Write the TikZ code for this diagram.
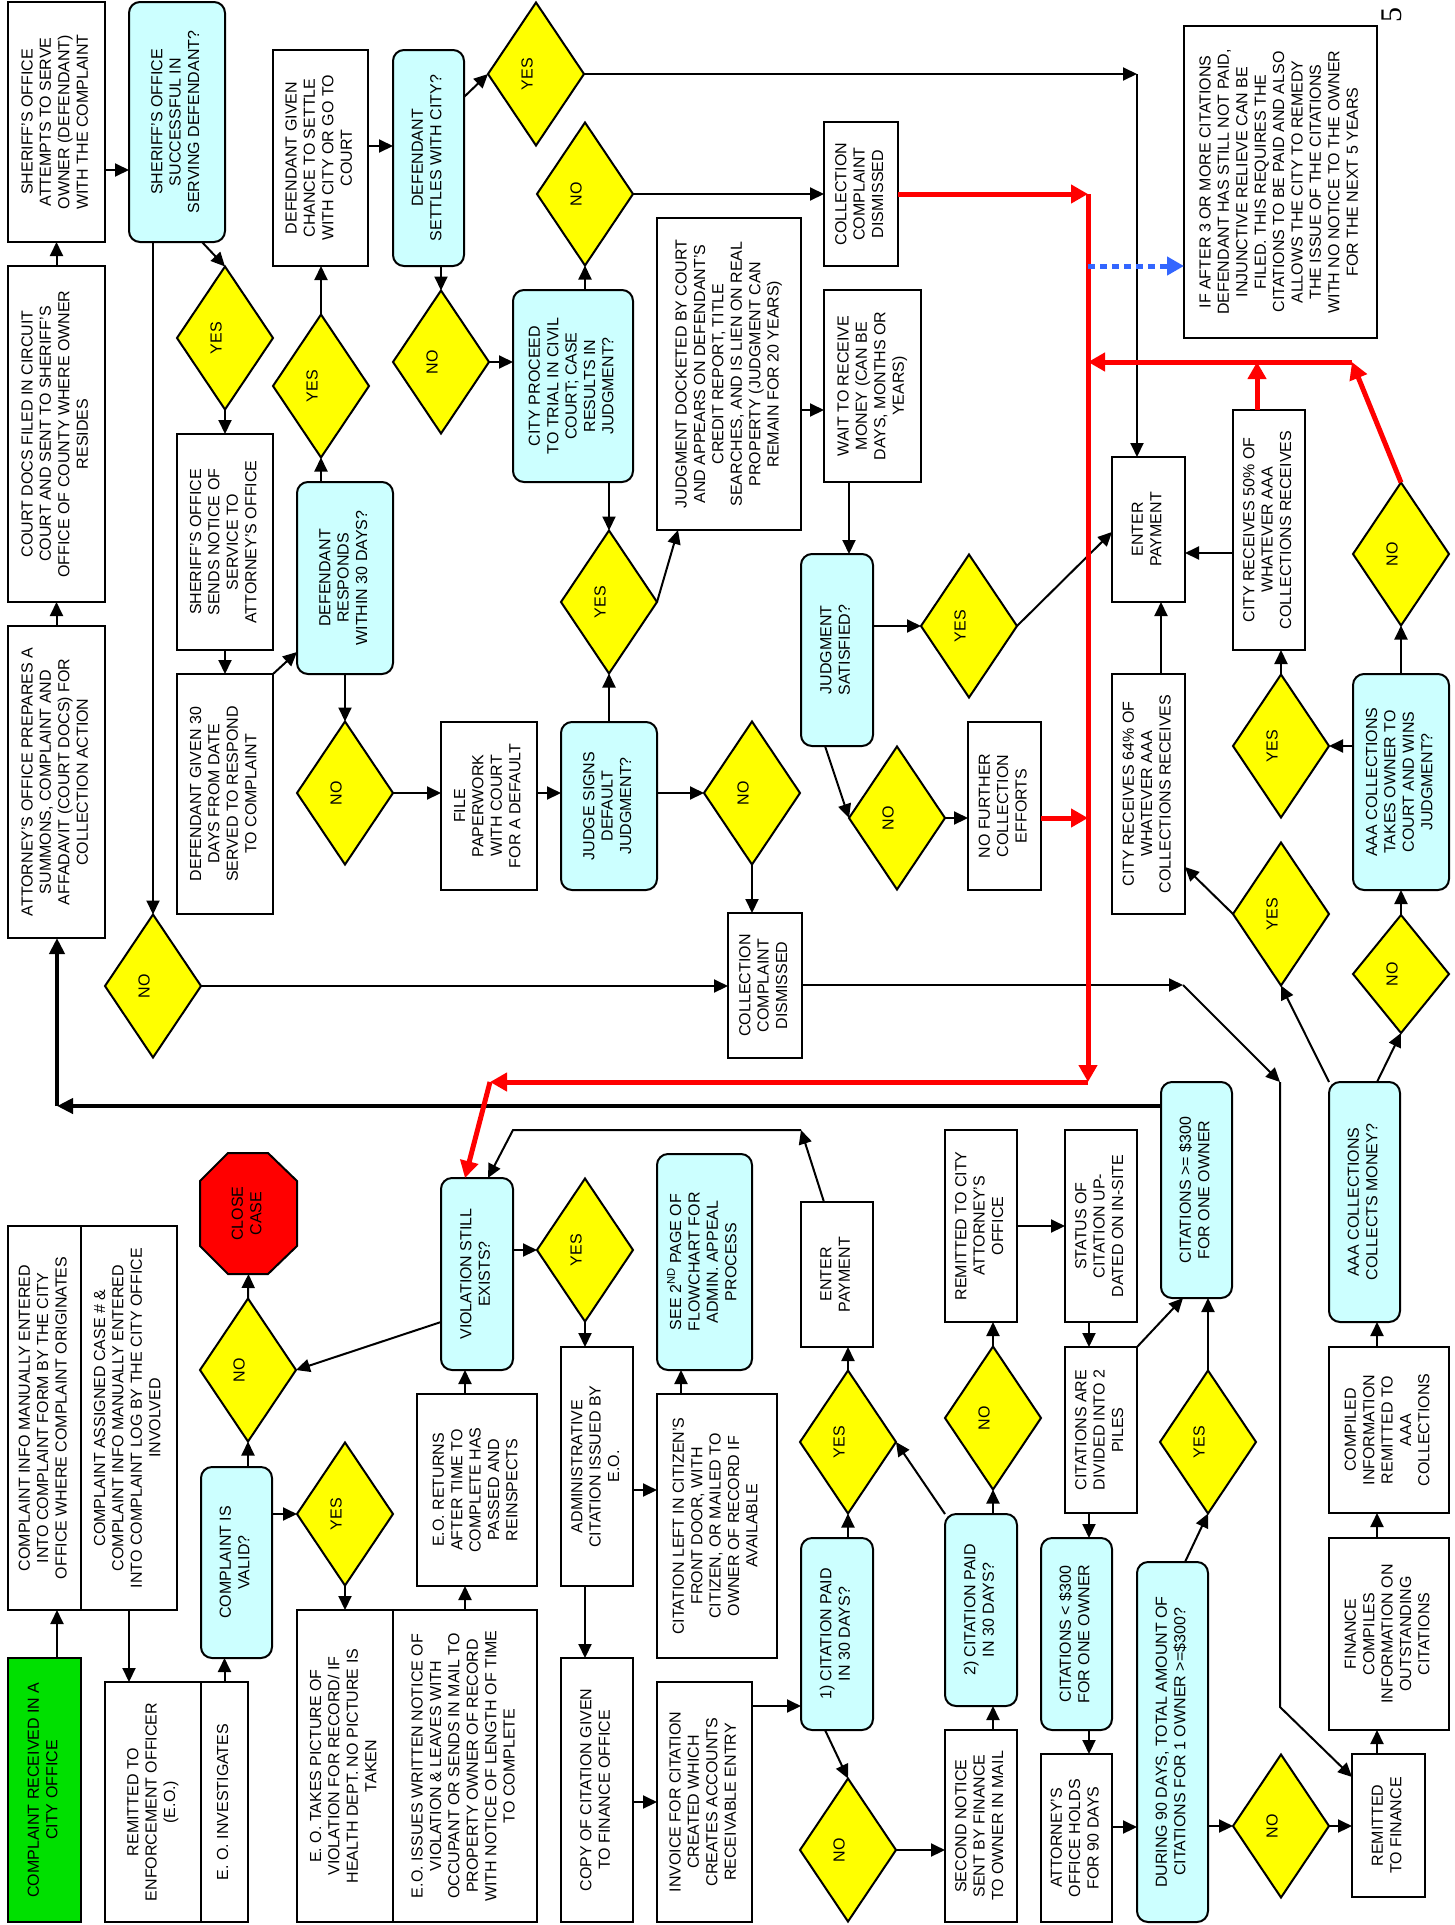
\documentclass[tikz,border=0pt]{standalone}
\usepackage{fontspec}
\setmainfont{Liberation Sans}
\newfontfamily\pgnum{Liberation Serif}
\usetikzlibrary{shapes.geometric,arrows.meta}
\definecolor{cyanbox}{HTML}{CCFFFF}
\definecolor{greenbox}{HTML}{00E000}
\definecolor{yel}{HTML}{FFFF00}
\definecolor{blueline}{HTML}{3366FF}
\definecolor{redline}{HTML}{FF0000}
\newcommand\rt[1]{\rotatebox{90}{\begin{tabular}{@{}c@{}}#1\end{tabular}}}
\newcommand\bx[7]{\node[#2, minimum width={#5-#3}, minimum height={#6-#4}] (#1) at ({(#3+#5)/2},{(#4+#6)/2}) {\rt{#7}};}
\newcommand\dm[5][]{\node[dia,#1,label={[inner sep=0pt,xshift=-9pt]center:\rotatebox{90}{#5}}] (#2) at (#3,#4) {};}
\tikzset{
  every node/.style={font=\fontsize{16}{18.4}\selectfont},
  bx/.style={draw, line width=2pt, fill=white, inner sep=0pt, outer sep=0pt},
  cy/.style={bx, fill=cyanbox, rounded corners=11pt},
  gr/.style={bx, fill=greenbox},
  dia/.style={diamond, draw, line width=2pt, fill=yel, inner sep=0pt, outer sep=0pt, minimum width=96pt, minimum height=143pt},
  arr/.style={line width=2pt, -{Triangle[length=14pt,width=13pt]}},
  thk/.style={line width=4pt, -{Triangle[length=16pt,width=15pt]}},
  rd/.style={line width=5pt, draw=redline, -{Triangle[length=17pt,width=18pt]}},
  bl/.style={line width=5pt, draw=blueline, dash pattern=on 7pt off 5pt, -{Triangle[length=17pt,width=18pt]}},
}
\begin{document}
\begin{tikzpicture}[x=1pt,y=-1pt]
\fill[white] (0,0) rectangle (1455,1925);
\useasboundingbox (0,0) rectangle (1455,1925);

% ---------- upper part ----------
\bx{sheriffAtt}{bx}{8}{2}{105}{242}{SHERIFF'S OFFICE\\ATTEMPTS TO SERVE\\OWNER (DEFENDANT)\\WITH THE COMPLAINT}
\bx{sheriffSucc}{cy}{129}{2}{225}{242}{SHERIFF'S OFFICE\\SUCCESSFUL IN\\SERVING DEFENDANT?}
\bx{courtDocs}{bx}{8}{266}{105}{602}{COURT DOCS FILED IN CIRCUIT\\COURT AND SENT TO SHERIFF'S\\OFFICE OF COUNTY WHERE OWNER\\RESIDES}
\bx{attPrep}{bx}{8}{626}{105}{938}{ATTORNEY'S OFFICE PREPARES A\\SUMMONS, COMPLAINT AND\\AFFADAVIT (COURT DOCS) FOR\\COLLECTION ACTION}
\dm{dYes1}{225}{338}{YES}
\bx{sheriffNotice}{bx}{177}{434}{273}{650}{SHERIFF'S OFFICE\\SENDS NOTICE OF\\SERVICE TO\\ATTORNEY'S OFFICE}
\bx{def30}{bx}{177}{674}{273}{914}{DEFENDANT GIVEN 30\\DAYS FROM DATE\\SERVED TO RESPOND\\TO COMPLAINT}
\bx{defResp}{cy}{297}{482}{393}{674}{DEFENDANT\\RESPONDS\\WITHIN 30 DAYS?}
\dm{dYes2}{321}{386}{YES}
\bx{chance}{bx}{273}{50}{368}{266}{DEFENDANT GIVEN\\CHANCE TO SETTLE\\WITH CITY OR GO TO\\COURT}
\bx{settles}{cy}{393}{50}{464}{266}{DEFENDANT\\SETTLES WITH CITY?}
\dm{dNo1}{441}{362}{NO}
\dm{dYesTop}{536}{74}{YES}
\dm{dNo2}{585}{194}{NO}
\bx{trial}{cy}{513}{290}{633}{482}{CITY PROCEED\\TO TRIAL IN CIVIL\\COURT; CASE\\RESULTS IN\\JUDGMENT?}
\bx{collDis1}{bx}{824}{122}{898}{266}{COLLECTION\\COMPLAINT\\DISMISSED}
\bx{docketed}{bx}{657}{218}{801}{530}{JUDGMENT DOCKETED BY COURT\\AND APPEARS ON DEFENDANT'S\\CREDIT REPORT, TITLE\\SEARCHES, AND IS LIEN ON REAL\\PROPERTY (JUDGMENT CAN\\REMAIN FOR 20 YEARS)}
\bx{wait}{bx}{824}{290}{921}{482}{WAIT TO RECEIVE\\MONEY (CAN BE\\DAYS, MONTHS OR\\YEARS)}
\dm{dYes3}{609}{602}{YES}
\bx{judge}{cy}{561}{722}{657}{890}{JUDGE SIGNS\\DEFAULT\\JUDGMENT?}
\bx{file}{bx}{441}{722}{537}{890}{FILE\\PAPERWORK\\WITH COURT\\FOR A DEFAULT}
\dm{dNo3}{345}{793}{NO}
\dm{dNo4}{752}{793}{NO}
\bx{collDis2}{bx}{728}{913}{802}{1058}{COLLECTION\\COMPLAINT\\DISMISSED}
\bx{satisfied}{cy}{801}{554}{873}{746}{JUDGMENT\\SATISFIED?}
\dm{dYes4}{969}{626}{YES}
\dm{dNo5}{897}{818}{NO}
\bx{noFurther}{bx}{968}{722}{1041}{890}{NO FURTHER\\COLLECTION\\EFFORTS}
\bx{enterPay1}{bx}{1112}{457}{1185}{602}{ENTER\\PAYMENT}
\bx{city50}{bx}{1233}{410}{1305}{650}{CITY RECEIVES 50\% OF\\WHATEVER AAA\\COLLECTIONS RECEIVES}
\bx{city64}{bx}{1112}{674}{1185}{914}{CITY RECEIVES 64\% OF\\WHATEVER AAA\\COLLECTIONS RECEIVES}
\dm{dYes5}{1281}{746}{YES}
\dm{dNo6}{1401}{554}{NO}
\bx{aaaTakes}{cy}{1353}{674}{1449}{890}{AAA COLLECTIONS\\TAKES OWNER TO\\COURT AND WINS\\JUDGMENT?}
\dm{dYes6}{1281}{914}{YES}
\dm[minimum height=118pt]{dNo7}{1401}{974}{NO}
\bx{aaaCollects}{cy}{1329}{1082}{1400}{1322}{AAA COLLECTIONS\\COLLECTS MONEY?}
\bx{ifAfter}{bx}{1184}{26}{1377}{338}{IF AFTER 3 OR MORE CITATIONS\\DEFENDANT HAS STILL NOT PAID,\\INJUNCTIVE RELIEVE CAN BE\\FILED. THIS REQUIRES THE\\CITATIONS TO BE PAID AND ALSO\\ALLOWS THE CITY TO REMEDY\\THE ISSUE OF THE CITATIONS\\WITH NO NOTICE TO THE OWNER\\FOR THE NEXT 5 YEARS}
\dm{dNoLeft}{153}{986}{NO}
\node[font=\pgnum\fontsize{30}{30}\selectfont, rotate=90, inner sep=0pt] (pgno) at (1392,15) {5};

% ---------- lower part ----------
\bx{green}{gr}{8}{1658}{81}{1922}{COMPLAINT RECEIVED IN A\\CITY OFFICE}
\bx{info1}{bx}{8}{1226}{81}{1610}{COMPLAINT INFO MANUALLY ENTERED\\INTO COMPLAINT FORM BY THE CITY\\OFFICE WHERE COMPLAINT ORIGINATES}
\bx{info2}{bx}{81}{1226}{177}{1610}{COMPLAINT ASSIGNED CASE \# \&\\COMPLAINT INFO MANUALLY ENTERED\\INTO COMPLAINT LOG BY THE CITY OFFICE\\INVOLVED}
\bx{remEO}{bx}{105}{1682}{201}{1922}{REMITTED TO\\ENFORCEMENT OFFICER\\(E.O.)}
\bx{eoInv}{bx}{201}{1682}{248}{1922}{E. O. INVESTIGATES}
\bx{valid}{cy}{201}{1467}{272}{1658}{COMPLAINT IS\\VALID?}
\dm{dYes7}{345}{1514}{YES}
\dm{dNo8}{248}{1370}{NO}
\filldraw[fill=redline, line width=2pt] (228,1153) -- (268,1153) -- (297,1181) -- (297,1246) -- (268,1274) -- (228,1274) -- (200,1246) -- (200,1181) -- cycle;
\node[inner sep=0pt, outer sep=0pt, minimum width=97pt, minimum height=121pt] (close) at (248.5,1213.5) {\rt{CLOSE\\CASE}};
\bx{eoPic}{bx}{297}{1610}{393}{1922}{E. O. TAKES PICTURE OF\\VIOLATION FOR RECORD/ IF\\HEALTH DEPT. NO PICTURE IS\\TAKEN}
\bx{eoIssue}{bx}{393}{1610}{537}{1922}{E.O. ISSUES WRITTEN NOTICE OF\\VIOLATION \& LEAVES WITH\\OCCUPANT OR SENDS IN MAIL TO\\PROPERTY OWNER OF RECORD\\WITH NOTICE OF LENGTH OF TIME\\TO COMPLETE}
\bx{eoRet}{bx}{417}{1394}{537}{1586}{E.O. RETURNS\\AFTER TIME TO\\COMPLETE HAS\\PASSED AND\\REINSPECTS}
\bx{violation}{cy}{441}{1178}{513}{1370}{VIOLATION STILL\\EXISTS?}
\dm{dYes8}{585}{1250}{YES}
\bx{admin}{bx}{561}{1347}{633}{1586}{ADMINISTRATIVE\\CITATION ISSUED BY\\E.O.}
\bx{citizen}{bx}{657}{1394}{777}{1658}{CITATION LEFT IN CITIZEN'S\\FRONT DOOR, WITH\\CITIZEN, OR MAILED TO\\OWNER OF RECORD IF\\AVAILABLE}
\bx{see2nd}{cy}{657}{1154}{752}{1370}{SEE 2\textsuperscript{ND} PAGE OF\\FLOWCHART FOR\\ADMIN. APPEAL\\PROCESS}
\bx{copy}{bx}{561}{1658}{633}{1922}{COPY OF CITATION GIVEN\\TO FINANCE OFFICE}
\bx{invoice}{bx}{657}{1682}{752}{1922}{INVOICE FOR CITATION\\CREATED WHICH\\CREATES ACCOUNTS\\RECEIVABLE ENTRY}
\bx{paid1}{cy}{801}{1538}{873}{1730}{1) CITATION PAID\\IN 30 DAYS?}
\dm{dYes9}{848}{1442}{YES}
\bx{enterPay2}{bx}{801}{1202}{873}{1347}{ENTER\\PAYMENT}
\dm{dNo9}{848}{1850}{NO}
\bx{second}{bx}{945}{1730}{1017}{1922}{SECOND NOTICE\\SENT BY FINANCE\\TO OWNER IN MAIL}
\bx{paid2}{cy}{945}{1514}{1017}{1706}{2) CITATION PAID\\IN 30 DAYS?}
\dm{dNo10}{993}{1418}{NO}
\bx{remCity}{bx}{945}{1130}{1017}{1322}{REMITTED TO CITY\\ATTORNEY'S\\OFFICE}
\bx{status}{bx}{1065}{1130}{1137}{1322}{STATUS OF\\CITATION UP-\\DATED ON IN-SITE}
\bx{divided}{bx}{1065}{1347}{1137}{1513}{CITATIONS ARE\\DIVIDED INTO 2\\PILES}
\bx{ge300}{cy}{1161}{1082}{1232}{1298}{CITATIONS >= \$300\\FOR ONE OWNER}
\bx{lt300}{cy}{1041}{1538}{1112}{1730}{CITATIONS < \$300\\FOR ONE OWNER}
\bx{holds}{bx}{1041}{1754}{1112}{1922}{ATTORNEY'S\\OFFICE HOLDS\\FOR 90 DAYS}
\bx{during}{cy}{1137}{1562}{1208}{1922}{DURING 90 DAYS, TOTAL AMOUNT OF\\CITATIONS FOR 1 OWNER >=\$300?}
\dm{dYes10}{1208}{1442}{YES}
\dm{dNo11}{1281}{1826}{NO}
\bx{remFin}{bx}{1352}{1754}{1425}{1897}{REMITTED\\TO FINANCE}
\bx{finComp}{bx}{1329}{1538}{1449}{1730}{FINANCE\\COMPILES\\INFORMATION ON\\OUTSTANDING\\CITATIONS}
\bx{compiled}{bx}{1329}{1347}{1449}{1513}{COMPILED\\INFORMATION\\REMITTED TO\\AAA\\COLLECTIONS}

% ---------- free ends ----------
\coordinate (c1) at (1137,74);
\coordinate (r1) at (1088,194);
\coordinate (r2) at (1088,1082);
\coordinate (r3) at (490,1082);
\coordinate (r4) at (1088,818);
\coordinate (r5) at (1088,362);
\coordinate (r6) at (1352,362);
\coordinate (r7) at (1257,362);
\coordinate (b1) at (1088,266);
\coordinate (k1) at (1183,985);
\coordinate (k2) at (1280,1082);
\coordinate (k3) at (1280,1707);
\coordinate (t1) at (57,1106);
\coordinate (e1) at (801,1130);
\coordinate (e2) at (513,1130);

% ---------- black connectors, upper ----------
\draw[arr] (courtDocs) -- (sheriffAtt);
\draw[arr] (attPrep) -- (courtDocs);
\draw[arr] (sheriffAtt.east |- 0,170) -- (sheriffSucc.west |- 0,170);
\draw[arr] (sheriffSucc.south -| 202,0) -- (dYes1.north);
\draw[arr] (dYes1.south) -- (sheriffNotice.north);
\draw[arr] (sheriffNotice) -- (def30);
\draw[arr] (def30.north east) -- (defResp.west |- 0,652);
\draw[arr] (defResp.north -| dYes2.south) -- (dYes2.south);
\draw[arr] (dYes2.north) -- (dYes2.north |- chance.south);
\draw[arr] (chance.east |- 0,146) -- (settles.west |- 0,146);
\draw[arr] (settles.south -| dNo1.north) -- (dNo1.north);
\draw[arr] (settles.east |- 0,97) -- (dYesTop.west);
\draw[arr] (dYesTop.east) -- (c1);
\draw[arr] (c1) -- (c1 |- enterPay1.north);
\draw[arr] (dNo1.east) -- (dNo1.east -| trial.west);
\draw[arr] (trial.north -| dNo2.south) -- (dNo2.south);
\draw[arr] (dNo2.east) -- (dNo2.east -| collDis1.west);
\draw[arr] (trial.south -| dYes3.north) -- (dYes3.north);
\draw[arr] (dYes3.east) -- (docketed.south -| 678,0);
\draw[arr] (judge.north -| dYes3.south) -- (dYes3.south);
\draw[arr] (dNo3.east) -- (dNo3.east -| file.west);
\draw[arr] (file.east |- dNo3.east) -- (judge.west |- dNo3.east);
\draw[arr] (defResp.south -| dNo3.north) -- (dNo3.north);
\draw[arr] (judge.east |- dNo4.west) -- (dNo4.west);
\draw[arr] (dNo4.south) -- (dNo4.south |- collDis2.north);
\draw[arr] (docketed.east |- 0,410) -- (wait.west |- 0,410);
\draw[arr] (wait.south -| 849,0) -- (satisfied.north -| 849,0);
\draw[arr] (satisfied.east |- dYes4.west) -- (dYes4.west);
\draw[arr] (dYes4.east) -- (enterPay1.west |- 0,532);
\draw[arr] (satisfied.south -| 825,0) -- (dNo5.west);
\draw[arr] (dNo5.east) -- (dNo5.east -| noFurther.west);
\draw[arr] (city50.west |- 0,553) -- (enterPay1.east |- 0,553);
\draw[arr] (city64.north -| 1161,0) -- (enterPay1.south -| 1161,0);
\draw[arr] (dYes5.north) -- (dYes5.north |- city50.south);
\draw[arr] (aaaTakes.west |- dYes5.east) -- (dYes5.east);
\draw[arr] (aaaTakes.north) -- (dNo6.south);
\draw[arr] (dYes6.west) -- (city64.east |- 0,867);
\draw[arr] (dNo7.north) -- (dNo7.north |- aaaTakes.south);
\draw[arr] (aaaCollects.north -| 1377,0) -- (dNo7.south);
\draw[arr] (aaaCollects.north west) -- (dYes6.south);
\draw[arr] (collDis2.east |- k1) -- (k1);
\draw[arr] (k1) -- (k2);
\draw[arr] (k2) -- (k3) -- (remFin.west |- 0,1777);
\draw[arr] (dNoLeft.east) -- (dNoLeft.east -| collDis2.west);
\draw[arr] (sheriffSucc.south -| dNoLeft.north) -- (dNoLeft.north);
\draw[thk] (ge300.west |- t1) -- (t1);
\draw[thk] (t1) -- (t1 |- attPrep.south);

% ---------- black connectors, lower ----------
\draw[arr] (green.north -| 57,0) -- (info1.south -| 57,0);
\draw[arr] (info2.south -| 129,0) -- (remEO.north -| 129,0);
\draw[arr] (eoInv.north) -- (valid.south -| eoInv.north);
\draw[arr] (valid.east |- dYes7.west) -- (dYes7.west);
\draw[arr] (valid.north -| dNo8.south) -- (dNo8.south);
\draw[arr] (dNo8.north) -- (close.south);
\draw[arr] (violation.west |- 0,1322) -- (dNo8.east);
\draw[arr] (dYes7.south) -- (dYes7.south |- eoPic.north);
\draw[arr] (eoIssue.north) -- (eoIssue.north |- eoRet.south);
\draw[arr] (eoRet.north -| 465,0) -- (violation.south -| 465,0);
\draw[arr] (violation.east |- dYes8.west) -- (dYes8.west);
\draw[arr] (dYes8.south) -- (dYes8.south |- admin.north);
\draw[arr] (admin.east |- 0,1490) -- (citizen.west |- 0,1490);
\draw[arr] (citizen.north -| 681,0) -- (see2nd.south -| 681,0);
\draw[arr] (admin.south -| 585,0) -- (copy.north -| 585,0);
\draw[arr] (copy.east |- 0,1802) -- (invoice.west |- 0,1802);
\draw[arr] (invoice.east |- 0,1706) -- (paid1.west |- 0,1706);
\draw[arr] (paid1.north -| dYes9.south) -- (dYes9.south);
\draw[arr] (dYes9.north) -- (dYes9.north |- enterPay2.south);
\draw[arr] (enterPay2.north -| 824,0) -- (e1);
\draw[arr] (e1) -- (e2) -- (violation.north -| 488,0);
\draw[arr] (paid1.south -| 825,0) -- (dNo9.north);
\draw[arr] (dNo9.east) -- (dNo9.east -| second.west);
\draw[arr] (second.north -| 993,0) -- (paid2.south -| 993,0);
\draw[arr] (paid2.north west) -- (dYes9.east);
\draw[arr] (paid2.north -| dNo10.south) -- (dNo10.south);
\draw[arr] (dNo10.north) -- (dNo10.north |- remCity.south);
\draw[arr] (remCity.east) -- (status.west);
\draw[arr] (status.south -| 1089,0) -- (divided.north -| 1089,0);
\draw[arr] (divided.north east) -- (ge300.south -| 1183,0);
\draw[arr] (dYes10.north) -- (dYes10.north |- ge300.south);
\draw[arr] (divided.south -| 1089,0) -- (lt300.north -| 1089,0);
\draw[arr] (lt300.south -| 1089,0) -- (holds.north -| 1089,0);
\draw[arr] (holds.east |- 0,1827) -- (during.west |- 0,1827);
\draw[arr] (during.north -| 1185,0) -- (dYes10.south);
\draw[arr] (during.east |- dNo11.west) -- (dNo11.west);
\draw[arr] (dNo11.east) -- (dNo11.east -| remFin.west);
\draw[arr] (remFin.north -| 1377,0) -- (finComp.south -| 1377,0);
\draw[arr] (finComp.north -| 1377,0) -- (compiled.south -| 1377,0);
\draw[arr] (compiled.north -| 1377,0) -- (aaaCollects.south -| 1377,0);

% ---------- red and blue connectors ----------
\draw[rd] (collDis1.east) -- (r1);
\draw[rd] (r1) -- (r2);
\draw[rd] (r2) -- (r3);
\draw[rd] (r3) -- (violation.north -| 465,0);
\draw[rd] (noFurther.east |- r4) -- (r4);
\draw[rd] (city50.north -| r7) -- (r7);
\draw[rd] (dNo6.north) -- (r6);
\draw[rd] (r6) -- (r5);
\draw[bl] (b1) -- (b1 -| ifAfter.west);
\end{tikzpicture}
\end{document}
